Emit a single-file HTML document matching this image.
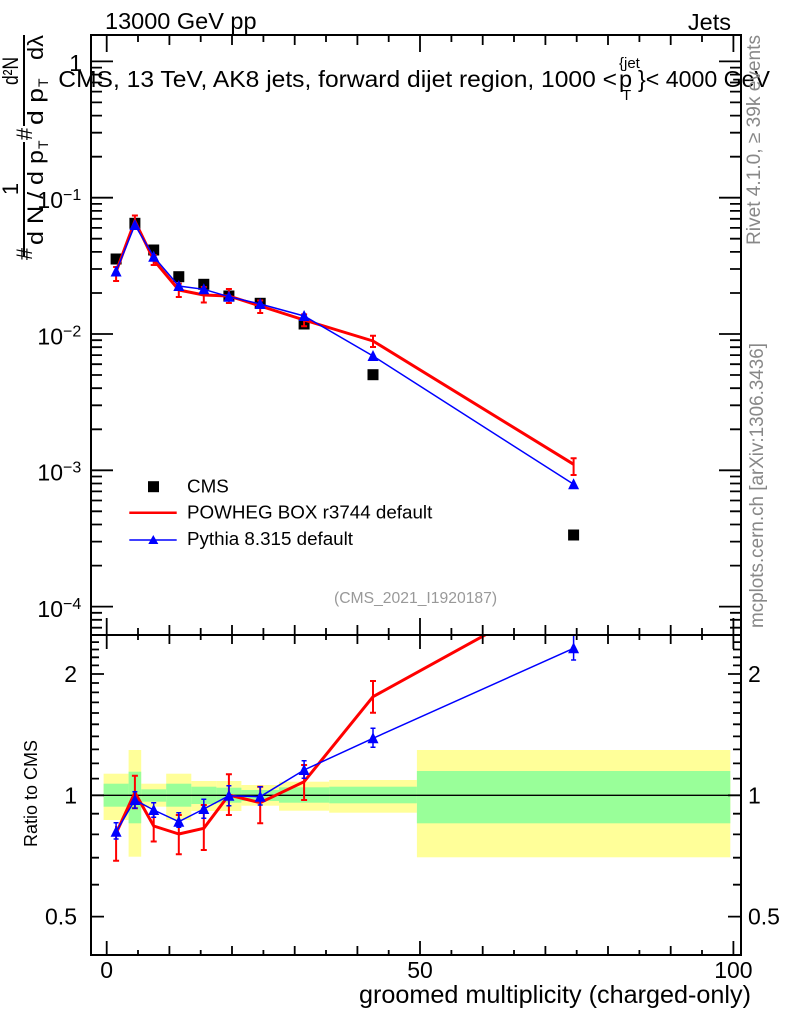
<!DOCTYPE html>
<html><head><meta charset="utf-8"><style>
html,body{margin:0;padding:0;background:#fff;}
svg{display:block;}
text{font-family:"Liberation Sans",sans-serif;}
</style></head><body>
<svg width="786" height="1024" viewBox="0 0 786 1024" xmlns="http://www.w3.org/2000/svg">
<defs>
<clipPath id="ct"><rect x="91" y="35" width="650" height="600"/></clipPath>
<clipPath id="cr"><rect x="91" y="635" width="650" height="320"/></clipPath>
</defs>
<rect width="786" height="1024" fill="#fff"/>

<!-- Titles -->
<text x="105" y="29" font-size="23.5">13000 GeV pp</text>
<text x="731" y="30" font-size="23.5" text-anchor="end">Jets</text>

<!-- Ratio bands -->
<g>
<rect x="103.6" y="773.7" width="25" height="46.3" fill="#ffff99"/>
<rect x="128.6" y="750" width="12.6" height="106.7" fill="#ffff99"/>
<rect x="141.2" y="783.7" width="25" height="23" fill="#ffff99"/>
<rect x="166.2" y="773.7" width="25.1" height="46.3" fill="#ffff99"/>
<rect x="191.3" y="781" width="25.1" height="30" fill="#ffff99"/>
<rect x="216.4" y="781" width="25" height="30" fill="#ffff99"/>
<rect x="241.4" y="785" width="37.6" height="20.7" fill="#ffff99"/>
<rect x="279" y="781.7" width="50.2" height="29" fill="#ffff99"/>
<rect x="329.2" y="780" width="87.7" height="32.7" fill="#ffff99"/>
<rect x="416.9" y="750" width="313.4" height="107.3" fill="#ffff99"/>
<rect x="103.6" y="783.7" width="25" height="23" fill="#99ff99"/>
<rect x="128.6" y="771.7" width="12.6" height="51.6" fill="#99ff99"/>
<rect x="141.2" y="789.3" width="25" height="12.4" fill="#99ff99"/>
<rect x="166.2" y="783.7" width="25.1" height="23" fill="#99ff99"/>
<rect x="191.3" y="786.7" width="25.1" height="17.3" fill="#99ff99"/>
<rect x="216.4" y="787.7" width="25" height="15" fill="#99ff99"/>
<rect x="241.4" y="790" width="37.6" height="11" fill="#99ff99"/>
<rect x="279" y="787.3" width="50.2" height="15.4" fill="#99ff99"/>
<rect x="329.2" y="786.7" width="87.7" height="16.6" fill="#99ff99"/>
<rect x="416.9" y="771" width="313.4" height="52.3" fill="#99ff99"/>
</g>
<line x1="91" y1="795.3" x2="741" y2="795.3" stroke="#000" stroke-width="1.3"/>

<!-- Top panel data -->
<g clip-path="url(#ct)">
<g fill="#000">
<rect x="110.6" y="253.5" width="11" height="11"/>
<rect x="129.4" y="217.8" width="11" height="11"/>
<rect x="148.2" y="244.5" width="11" height="11"/>
<rect x="173.3" y="271.2" width="11" height="11"/>
<rect x="198.3" y="278.8" width="11" height="11"/>
<rect x="223.4" y="290.5" width="11" height="11"/>
<rect x="254.7" y="297.8" width="11" height="11"/>
<rect x="298.6" y="318.5" width="11" height="11"/>
<rect x="367.5" y="369.2" width="11" height="11"/>
<rect x="568.1" y="529.5" width="11" height="11"/>
</g>
<polyline fill="none" stroke="#ff0000" stroke-width="3" stroke-linejoin="round" points="116.1,271.7 134.9,221 153.7,260 178.8,290 203.8,295 228.9,296 260.2,306 304.1,320 373,341 573.6,464.3"/>
<path fill="none" stroke="#ff0000" stroke-width="2" d="M116.1 267V281M113.1 267h6M113.1 281h6
M134.9 215.5V226.5M131.9 215.5h6M131.9 226.5h6
M153.7 255V265M150.7 255h6M150.7 265h6
M178.8 283.6V297M175.8 283.6h6M175.8 297h6
M203.8 287V302.5M200.8 287h6M200.8 302.5h6
M228.9 289V303M225.9 289h6M225.9 303h6
M260.2 300.5V313M257.2 300.5h6M257.2 313h6
M304.1 314.4V326.2M301.1 314.4h6M301.1 326.2h6
M373 335.7V347M370 335.7h6M370 347h6
M573.6 458.3V475M570.6 458.3h6M570.6 475h6"/>
<polyline fill="none" stroke="#0000ff" stroke-width="1.5" points="116.1,271.5 134.9,225 153.7,256.7 178.8,286 203.8,289.3 228.9,296.7 260.2,304 304.1,316 373,356 573.6,484.3"/>
<g fill="#0000ff">
<polygon points="110.6,276.5 121.6,276.5 116.1,265.5"/>
<polygon points="129.4,230 140.4,230 134.9,219"/>
<polygon points="148.2,261.7 159.2,261.7 153.7,250.7"/>
<polygon points="173.3,291 184.3,291 178.8,280"/>
<polygon points="198.3,294.3 209.3,294.3 203.8,283.3"/>
<polygon points="223.4,301.7 234.4,301.7 228.9,290.7"/>
<polygon points="254.7,309 265.7,309 260.2,298"/>
<polygon points="298.6,321 309.6,321 304.1,310"/>
<polygon points="367.5,361 378.5,361 373,350"/>
<polygon points="568.1,489.3 579.1,489.3 573.6,478.3"/>
</g>
</g>

<!-- Ratio data -->
<g clip-path="url(#cr)">
<polyline fill="none" stroke="#ff0000" stroke-width="3" stroke-linejoin="round" points="116.1,833.3 134.9,792.5 153.7,826 178.8,834 203.8,828.3 228.9,795 260.2,802.7 304.1,781.7 373,696.7 573.6,586.2"/>
<path fill="none" stroke="#ff0000" stroke-width="2" d="M116.1 826V860.7M113.1 860.7h6
M134.9 775.7V808.3M131.9 775.7h6M131.9 808.3h6
M153.7 811V841.5M150.7 811h6M150.7 841.5h6
M178.8 815V854.3M175.8 815h6M175.8 854.3h6
M203.8 805V850M200.8 805h6M200.8 850h6
M228.9 774.3V815M225.9 774.3h6M225.9 815h6
M260.2 786.7V823.3M257.2 786.7h6M257.2 823.3h6
M304.1 765V800M301.1 765h6M301.1 800h6
M373 681V712.7M370 681h6M370 712.7h6"/>
<polyline fill="none" stroke="#0000ff" stroke-width="1.5" points="116.1,831.7 134.9,800 153.7,810 178.8,821.7 203.8,809 228.9,795.7 260.2,796.7 304.1,770 373,738.3 573.6,648.3"/>
<path fill="none" stroke="#0000ff" stroke-width="1.5" d="M116.1 822.7V839M113.6 822.7h5M113.6 839h5
M134.9 791.7V808.3M132.4 791.7h5M132.4 808.3h5
M153.7 802.7V817.3M151.2 802.7h5M151.2 817.3h5
M178.8 812.7V827.3M176.3 812.7h5M176.3 827.3h5
M203.8 799.3V818.3M201.3 799.3h5M201.3 818.3h5
M228.9 785.7V805.7M226.4 785.7h5M226.4 805.7h5
M260.2 786.7V805M257.7 786.7h5M257.7 805h5
M304.1 760.7V778.3M301.6 760.7h5M301.6 778.3h5
M373 728.3V747.3M370.5 728.3h5M370.5 747.3h5
M573.6 635V660M571.1 660h5"/>
<g fill="#0000ff">
<polygon points="110.6,836.7 121.6,836.7 116.1,825.7"/>
<polygon points="129.4,805 140.4,805 134.9,794"/>
<polygon points="148.2,815 159.2,815 153.7,804"/>
<polygon points="173.3,826.7 184.3,826.7 178.8,815.7"/>
<polygon points="198.3,814 209.3,814 203.8,803"/>
<polygon points="223.4,800.7 234.4,800.7 228.9,789.7"/>
<polygon points="254.7,801.7 265.7,801.7 260.2,790.7"/>
<polygon points="298.6,775 309.6,775 304.1,764"/>
<polygon points="367.5,743.3 378.5,743.3 373,732.3"/>
<polygon points="568.1,653.3 579.1,653.3 573.6,642.3"/>
</g>
</g>

<!-- Frames -->
<rect x="91" y="35" width="650" height="600" fill="none" stroke="#000" stroke-width="2"/>
<rect x="91" y="635" width="650" height="320" fill="none" stroke="#000" stroke-width="2"/>

<!-- Top panel y ticks -->
<path fill="none" stroke="#000" stroke-width="1.8" d="
M91 61.4h22M91 197.7h22M91 334h22M91 470.3h22M91 606.6h22
M741 61.4h-22M741 197.7h-22M741 334h-22M741 470.3h-22M741 606.6h-22
M91 67.6h11M91 74.6h11M91 82.5h11M91 91.6h11M91 102.4h11M91 115.6h11M91 132.7h11M91 156.7h11
M91 203.9h11M91 210.9h11M91 218.8h11M91 227.9h11M91 238.7h11M91 251.9h11M91 269h11M91 293h11
M91 340.2h11M91 347.2h11M91 355.1h11M91 364.2h11M91 375h11M91 388.2h11M91 405.3h11M91 429.3h11
M91 476.5h11M91 483.5h11M91 491.4h11M91 500.5h11M91 511.3h11M91 524.5h11M91 541.6h11M91 565.6h11
M91 612.8h11M91 619.8h11M91 627.7h11
M741 67.6h-11M741 74.6h-11M741 82.5h-11M741 91.6h-11M741 102.4h-11M741 115.6h-11M741 132.7h-11M741 156.7h-11
M741 203.9h-11M741 210.9h-11M741 218.8h-11M741 227.9h-11M741 238.7h-11M741 251.9h-11M741 269h-11M741 293h-11
M741 340.2h-11M741 347.2h-11M741 355.1h-11M741 364.2h-11M741 375h-11M741 388.2h-11M741 405.3h-11M741 429.3h-11
M741 476.5h-11M741 483.5h-11M741 491.4h-11M741 500.5h-11M741 511.3h-11M741 524.5h-11M741 541.6h-11M741 565.6h-11
M741 612.8h-11M741 619.8h-11M741 627.7h-11"/>

<!-- Top panel x ticks -->
<path fill="none" stroke="#000" stroke-width="1.8" d="
M106.7 35v17M420 35v17M733.4 35v17
M169.4 35v10M232 35v10M294.7 35v10M357.4 35v10M482.7 35v10M545.4 35v10M608 35v10M670.7 35v10
M138 35v7M200.7 35v7M263.4 35v7M326 35v7M388.7 35v7M451.4 35v7M514 35v7M576.7 35v7M639.4 35v7M702 35v7
M106.7 635v-17M420 635v-17M733.4 635v-17
M169.4 635v-10M232 635v-10M294.7 635v-10M357.4 635v-10M482.7 635v-10M545.4 635v-10M608 635v-10M670.7 635v-10
M138 635v-7M200.7 635v-7M263.4 635v-7M326 635v-7M388.7 635v-7M451.4 635v-7M514 635v-7M576.7 635v-7M639.4 635v-7M702 635v-7"/>

<!-- Ratio x ticks -->
<path fill="none" stroke="#000" stroke-width="1.8" d="
M106.7 635v14M420 635v14M733.4 635v14
M169.4 635v9M232 635v9M294.7 635v9M357.4 635v9M482.7 635v9M545.4 635v9M608 635v9M670.7 635v9
M138 635v5M200.7 635v5M263.4 635v5M326 635v5M388.7 635v5M451.4 635v5M514 635v5M576.7 635v5M639.4 635v5M702 635v5
M106.7 955v-14M420 955v-14M733.4 955v-14
M169.4 955v-9M232 955v-9M294.7 955v-9M357.4 955v-9M482.7 955v-9M545.4 955v-9M608 955v-9M670.7 955v-9
M138 955v-5M200.7 955v-5M263.4 955v-5M326 955v-5M388.7 955v-5M451.4 955v-5M514 955v-5M576.7 955v-5M639.4 955v-5M702 955v-5"/>

<!-- Ratio y ticks -->
<path fill="none" stroke="#000" stroke-width="1.8" d="
M91 674h13M91 795.3h13M91 916.6h13
M741 674h-13M741 795.3h-13M741 916.6h-13
M91 642.1h8M91 649.5h8M91 657.3h8M91 665.4h8M91 683h8M91 692.4h8M91 702.4h8M91 713h8M91 724.3h8M91 736.4h8M91 749.4h8M91 763.4h8M91 778.6h8M91 813.7h8M91 834.4h8M91 857.7h8M91 884.7h8
M741 642.1h-8M741 649.5h-8M741 657.3h-8M741 665.4h-8M741 683h-8M741 692.4h-8M741 702.4h-8M741 713h-8M741 724.3h-8M741 736.4h-8M741 749.4h-8M741 763.4h-8M741 778.6h-8M741 813.7h-8M741 834.4h-8M741 857.7h-8M741 884.7h-8"/>

<!-- Top panel y labels -->
<g font-size="23">
<text x="82" y="71" text-anchor="end">1</text>
<text x="63" y="208" text-anchor="end">10</text>
<text x="63" y="344.3" text-anchor="end">10</text>
<text x="63" y="480.6" text-anchor="end">10</text>
<text x="63" y="617" text-anchor="end">10</text>
</g>
<g font-size="16">
<text x="63" y="200">−1</text>
<text x="63" y="336.3">−2</text>
<text x="63" y="472.6">−3</text>
<text x="63" y="609">−4</text>
</g>

<!-- Ratio y labels -->
<g font-size="23">
<text x="77" y="682" text-anchor="end">2</text>
<text x="77" y="803.5" text-anchor="end">1</text>
<text x="77" y="924.5" text-anchor="end">0.5</text>
<text x="748" y="682">2</text>
<text x="748" y="803.5">1</text>
<text x="748" y="924.5">0.5</text>
</g>

<!-- X labels -->
<g font-size="23" text-anchor="middle">
<text x="106.7" y="978">0</text>
<text x="420" y="978">50</text>
<text x="733.4" y="978">100</text>
</g>
<text x="751" y="1003" font-size="25" text-anchor="end" textLength="392" lengthAdjust="spacingAndGlyphs">groomed multiplicity (charged-only)</text>

<!-- Ratio axis title -->
<text transform="translate(37,793.5) rotate(-90)" font-size="18" text-anchor="middle">Ratio to CMS</text>

<!-- Top y-axis title -->
<g font-size="22">
<text transform="translate(32,254) rotate(-90)" text-anchor="middle">#</text>
<text transform="translate(18,189) rotate(-90)" text-anchor="middle">1</text>
<text transform="translate(43,245) rotate(-90)" textLength="95" lengthAdjust="spacingAndGlyphs">d N / d p</text>
<text transform="translate(32,134) rotate(-90)" text-anchor="middle">#</text>
<text transform="translate(18,85) rotate(-90)" textLength="28" lengthAdjust="spacingAndGlyphs">d²N</text>
<text transform="translate(43,125) rotate(-90)" textLength="37" lengthAdjust="spacingAndGlyphs">d p</text>
<text transform="translate(43,60) rotate(-90)" textLength="25" lengthAdjust="spacingAndGlyphs">dλ</text>
</g>
<g font-size="14">
<text transform="translate(48,149) rotate(-90)">T</text>
<text transform="translate(48,87) rotate(-90)">T</text>
</g>
<path d="M24 142V256M24 35V126" stroke="#000" stroke-width="2"/>

<!-- Subtitle -->
<text x="58.3" y="87" font-size="23.5" textLength="558.7" lengthAdjust="spacingAndGlyphs">CMS, 13 TeV, AK8 jets, forward dijet region, 1000 &lt;</text>
<text x="619" y="87" font-size="23.5">p</text>
<text x="619" y="68" font-size="15">{jet</text>
<text x="622" y="100" font-size="15">T</text>
<text x="638" y="87" font-size="23.5" textLength="132" lengthAdjust="spacingAndGlyphs">}&lt; 4000 GeV</text>

<!-- Legend -->
<rect x="148" y="481.2" width="11" height="11" fill="#000"/>
<text x="187" y="492.5" font-size="18.8">CMS</text>
<line x1="129.3" y1="512.7" x2="176.7" y2="512.7" stroke="#ff0000" stroke-width="2.5"/>
<text x="187" y="518.5" font-size="18.8">POWHEG BOX r3744 default</text>
<line x1="129.3" y1="540" x2="176.7" y2="540" stroke="#0000ff" stroke-width="1.5"/>
<polygon points="148.3,544 158.3,544 153.3,535" fill="#0000ff"/>
<text x="187" y="545" font-size="18.8">Pythia 8.315 default</text>

<text x="334" y="603" font-size="15.7" fill="#999">(CMS_2021_I1920187)</text>

<!-- Side labels -->
<text transform="translate(760,245) rotate(-90)" font-size="19" fill="#888" textLength="210" lengthAdjust="spacingAndGlyphs">Rivet 4.1.0, ≥ 39k events</text>
<text transform="translate(763,628) rotate(-90)" font-size="19" fill="#888" textLength="285" lengthAdjust="spacingAndGlyphs">mcplots.cern.ch [arXiv:1306.3436]</text>
</svg>
</body></html>
